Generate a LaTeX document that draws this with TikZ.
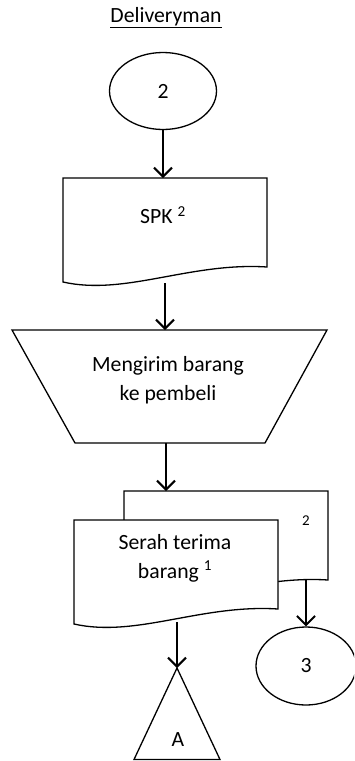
\documentclass[tikz,border=0pt]{standalone}
\usepackage{fontspec}
\setmainfont{Carlito}
\usepackage{tikz}
\usetikzlibrary{arrows.meta,shapes.geometric}

\begin{document}
\begin{tikzpicture}[x=1pt,y=-1pt,
	font=\fontsize{21.7}{29}\selectfont,
	shp/.style={draw,line width=1.3pt},
	>={Straight Barb[length=9pt,width=18pt]},
	lnk/.style={->,line width=2pt}]
	\useasboundingbox (0,0) rectangle (354,761);
	\clip (0,0) rectangle (354,761);
	\node (title) at (166,18) {\underline{Deliveryman}};
	\node[shp,ellipse,minimum width=107pt,minimum height=77pt,inner sep=0pt] (c2) at (163,91) {2};
	\draw[shp,shift={(63,178)}] (0,0) -- (204,0) -- (204,89) .. controls (127,84) and (62,118) .. (0,104) -- cycle;
	\node (spk) at (163,215) {SPK \textsuperscript{2}};
	\coordinate (spkin) at (163,178);
	\coordinate (spkout) at (165,283);
	\draw[shp] (12,330) -- (327,330) -- (265,443) -- (75,443) -- cycle;
	\node[align=center] (kirim) at (168,380) {Mengirim barang\\ke pembeli};
	\coordinate (kirimin) at (165,330);
	\coordinate (kirimout) at (166,443);
	\draw[shp,fill=white,shift={(124,491)}] (0,0) -- (204,0) -- (204,89) .. controls (127,84) and (62,118) .. (0,104) -- cycle;
	\node[font=\fontsize{15}{18}\selectfont] (lbl2) at (306,521) {2};
	\coordinate (backin) at (166,491);
	\coordinate (backout) at (306,580);
	\draw[shp,fill=white,shift={(74,520)}] (0,0) -- (204,0) -- (204,89) .. controls (127,84) and (62,118) .. (0,104) -- cycle;
	\node[align=center] (serah) at (175,558) {Serah terima\\barang \textsuperscript{1}};
	\coordinate (serahout) at (177,622);
	\node[shp,ellipse,minimum width=100pt,minimum height=78pt,inner sep=0pt] (c3) at (306,666) {3};
	\draw[shp] (177,668) -- (220,759.5) -- (134,759.5) -- cycle;
	\node (A) at (178,740) {A};
	\coordinate (Atop) at (177,668);
	\draw[lnk] (c2.south) -- (spkin);
	\draw[lnk] (spkout) -- (kirimin);
	\draw[lnk] (kirimout) -- (backin);
	\draw[lnk] (serahout) -- (Atop);
	\draw[lnk] (backout) -- (c3.north);
\end{tikzpicture}
\end{document}
